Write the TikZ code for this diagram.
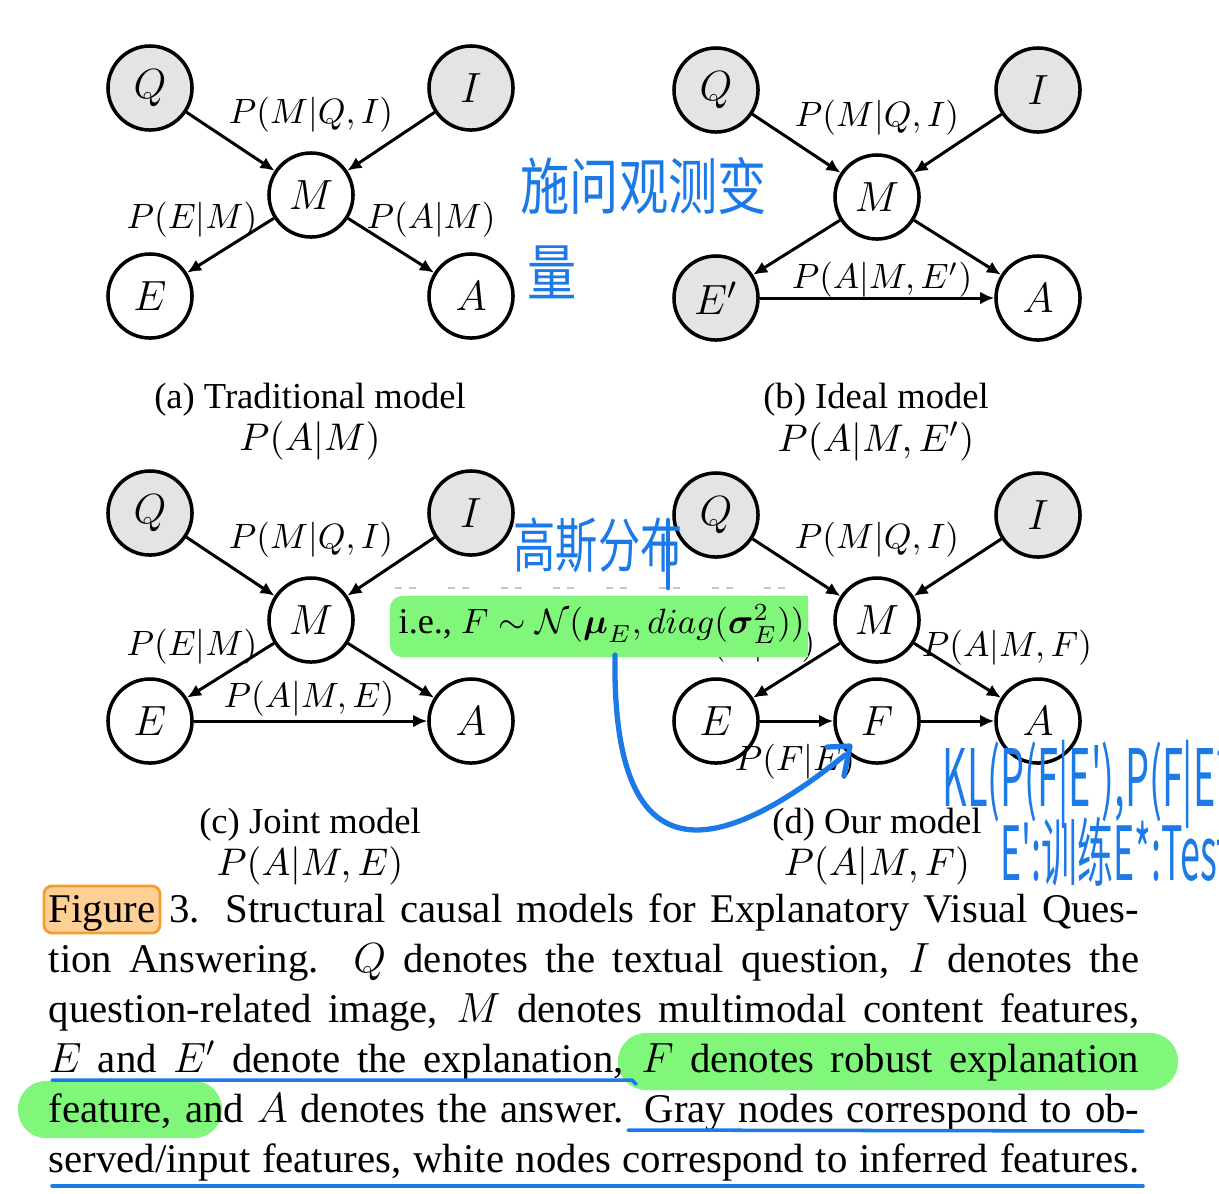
\documentclass[tikz,border=0pt]{standalone}
\usepackage{amsmath}
\usepackage{amssymb}
\usepackage{fontspec}
\setmainfont{Liberation Serif}
\newfontfamily\handfont{Noto Sans CJK SC}
\usetikzlibrary{arrows.meta}

\definecolor{obsgray}{RGB}{228,228,228}
\definecolor{penblue}{RGB}{28,122,232}
\definecolor{markgreen}{RGB}{128,247,122}
\definecolor{markorange}{RGB}{255,208,150}
\definecolor{markorangeline}{RGB}{242,158,48}

\tikzset{
	var/.style={circle, draw, line width=1pt, minimum size=0.84cm, inner sep=0pt, font=\fontsize{12.5}{15}\selectfont},
	obs/.style={var, fill=obsgray},
	edge/.style={-{Latex[length=4pt,width=3.6pt]}, line width=0.85pt},
	prob/.style={inner sep=0pt, font=\fontsize{9.6}{12}\selectfont},
	subcap/.style={inner sep=0pt, font=\fontsize{10.4}{12.5}\selectfont},
	subprob/.style={inner sep=0pt, font=\fontsize{11}{13}\selectfont},
	capline/.style={anchor=base west, inner sep=0pt, font=\fontsize{11.6}{14}\selectfont},
	pen/.style={color=penblue, line width=1.3pt, line cap=round, line join=round},
	hand/.style={color=penblue, inner sep=0pt, font=\handfont\fontsize{14}{17}\selectfont},
}

\begin{document}
\begin{tikzpicture}[x=0.01cm, y=-0.01cm]
	\useasboundingbox (0,0) rectangle (1219,1193);
	\fill[white] (0,0) rectangle (1219,1193);

	% (a) traditional model
	\begin{scope}[shift={(150,88)}]
		\node[obs] (Qa) at (0,0) {$Q$};
		\node[obs] (Ia) at (321,0) {$I$};
		\node[var] (Ma) at (161,107) {$M$};
		\node[var] (Ea) at (0,208) {$E$};
		\node[var] (Aa) at (321,208) {$A$};
		\draw[edge] (Qa) -- (Ma);
		\draw[edge] (Ia) -- (Ma);
		\draw[edge] (Ma) -- (Ea);
		\draw[edge] (Ma) -- (Aa);
		\node[prob] (pMa) at (161,27) {$P(M|Q,I)$};
		\node[prob] (pEa) at (42,132) {$P(E|M)$};
		\node[prob] (pAa) at (281,132) {$P(A|M)$};
		\node[subcap] (capa) at (160,312) {(a) Traditional model};
		\node[subprob] (fa) at (160,353) {$P(A|M)$};
	\end{scope}

	% (b) ideal model
	\begin{scope}[shift={(716,90)}]
		\node[obs] (Qb) at (0,0) {$Q$};
		\node[obs] (Ib) at (322,0) {$I$};
		\node[var] (Mb) at (161,107) {$M$};
		\node[obs] (Eb) at (0,208) {$E'$};
		\node[var] (Ab) at (322,208) {$A$};
		\draw[edge] (Qb) -- (Mb);
		\draw[edge] (Ib) -- (Mb);
		\draw[edge] (Mb) -- (Eb);
		\draw[edge] (Mb) -- (Ab);
		\draw[edge] (Eb) -- (Ab);
		\node[prob] (pMb) at (161,28) {$P(M|Q,I)$};
		\node[prob] (pAb) at (166,190) {$P(A|M,E')$};
		\node[subcap] (capb) at (160,310) {(b) Ideal model};
		\node[subprob] (fb) at (160,351) {$P(A|M,E')$};
	\end{scope}

	% (c) joint model
	\begin{scope}[shift={(150,513)}]
		\node[obs] (Qc) at (0,0) {$Q$};
		\node[obs] (Ic) at (321,0) {$I$};
		\node[var] (Mc) at (161,107) {$M$};
		\node[var] (Ec) at (0,208) {$E$};
		\node[var] (Ac) at (321,208) {$A$};
		\draw[edge] (Qc) -- (Mc);
		\draw[edge] (Ic) -- (Mc);
		\draw[edge] (Mc) -- (Ec);
		\draw[edge] (Mc) -- (Ac);
		\draw[edge] (Ec) -- (Ac);
		\node[prob] (pMc) at (161,27) {$P(M|Q,I)$};
		\node[prob] (pEc) at (42,134) {$P(E|M)$};
		\node[prob] (pAc) at (159,186) {$P(A|M,E)$};
		\node[subcap] (capc) at (160,312) {(c) Joint model};
		\node[subprob] (fc) at (160,353) {$P(A|M,E)$};
	\end{scope}

	% (d) our model
	\begin{scope}[shift={(716,515)}]
		\node[obs] (Qd) at (0,0) {$Q$};
		\node[obs] (Id) at (322,0) {$I$};
		\node[var] (Md) at (161,105) {$M$};
		\node[var] (Ed) at (0,206) {$E$};
		\node[var] (Fd) at (161,206) {$F$};
		\node[var] (Ad) at (322,206) {$A$};
		\draw[edge] (Qd) -- (Md);
		\draw[edge] (Id) -- (Md);
		\draw[edge] (Md) -- (Ed);
		\draw[edge] (Md) -- (Ad);
		\draw[edge] (Ed) -- (Fd);
		\draw[edge] (Fd) -- (Ad);
		\node[prob] (pMd) at (161,25) {$P(M|Q,I)$};
		\node[prob] (pEd) at (34,130) {$P(E|M)$};
		\node[prob] (pAd) at (291,133) {$P(A|M,F)$};
		\node[prob] (pFd) at (79,247) {$P(F|E)$};
		\node[subcap] (capd) at (161,310) {(d) Our model};
		\node[subprob] (fd) at (161,351) {$P(A|M,F)$};
	\end{scope}

	% pasted note over (c)/(d)
	\draw[gray!45, line width=0.5pt, dash pattern=on 2pt off 2pt on 2pt off 9pt] (395,588) -- (805,588);
	\fill[markgreen] (808,596) [rounded corners=0.12cm] -- (390,596) -- (390,657) [sharp corners] -- (808,657) -- cycle;
	\node[inner sep=0pt, anchor=west, font=\fontsize{10.3}{13}\selectfont] (gauss) at (398,624)
		{i.e., $F \sim \mathcal{N}(\boldsymbol{\mu}_E, diag(\boldsymbol{\sigma}_E^2))$};

	% caption
	\path[fill=markorange, draw=markorangeline, line width=0.8pt, rounded corners=0.08cm] (44,886) rectangle (160,933);
	\fill[markgreen, rounded corners=0.28cm] (618,1033) rectangle (1178,1090);
	\fill[markgreen, rounded corners=0.28cm] (18,1081) rectangle (222,1138);
	\node[capline] (cap1) at (48,922) {\makebox[10.9cm][s]{Figure 3. Structural causal models for Explanatory Visual Ques-}};
	\node[capline] (cap2) at (48,972) {\makebox[10.9cm][s]{tion Answering.\ \ $Q$ denotes the textual question, $I$ denotes the}};
	\node[capline] (cap3) at (48,1022) {\makebox[10.9cm][s]{question-related image, $M$ denotes multimodal content features,}};
	\node[capline] (cap4) at (48,1072) {\makebox[10.9cm][s]{$E$ and $E'$ denote the explanation, $F$ denotes robust explanation}};
	\node[capline] (cap5) at (48,1122) {\makebox[10.9cm][s]{feature, and $A$ denotes the answer. Gray nodes correspond to ob-}};
	\node[capline] (cap6) at (48,1172) {\makebox[10.9cm][s]{served/input features, white nodes correspond to inferred features.}};

	% pen notes
	\draw[pen, line width=1pt] (52,1080) -- (632,1080) -- (636,1084);
	\draw[pen, line width=1pt] (628,1130) -- (1143,1131);
	\draw[pen, line width=1pt] (52,1186) -- (1143,1186);
	\node[hand, anchor=west] (obsnote) at (520,186) {\scalebox{1}[1.25]{施问观测变}};
	\node[hand] (obsnote2) at (552,272) {\scalebox{1}[1.25]{量}};
	\node[hand, font=\handfont\fontsize{12}{14}\selectfont] (gaussnote) at (598,545) {\scalebox{1}[1.4]{高斯分布}};
	\draw[pen] (668,520) -- (668,588);
	\draw[pen, line width=1.5pt] (615,655) .. controls (612,850) and (690,880) .. (845,755);
	\draw[pen, line width=1.5pt] (827,747) -- (850,746) -- (844,776);
	\node[hand, anchor=west, font=\handfont\fontsize{18}{20}\selectfont] (klnote) at (942,784) {\scalebox{0.6}[1.25]{KL(P(F|E'),P(F|E*))}};
	\node[hand, anchor=west, font=\handfont\fontsize{17}{20}\selectfont] (setnote) at (1000,852) {\scalebox{0.6}[1.25]{E':训练E*:Test}};
\end{tikzpicture}
\end{document}
